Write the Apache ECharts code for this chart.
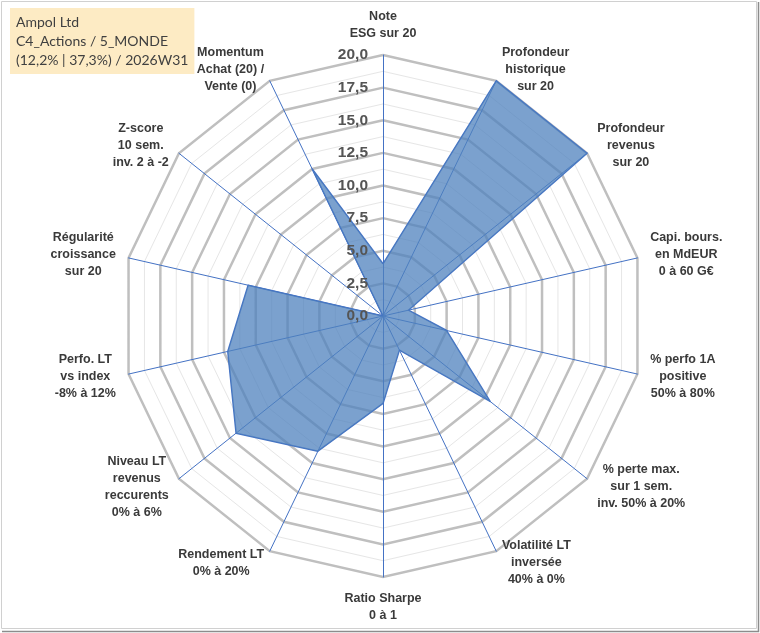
<!DOCTYPE html>
<html>
<head>
<meta charset="utf-8">
<script src="https://cdn.jsdelivr.net/npm/echarts@6/dist/echarts.min.js"></script>
<style>
html,body{margin:0;padding:0;background:#fff;}
#chart{width:760px;height:633px;}
</style>
</head>
<body>
<div id="chart"></div>
<script>
// Axes in clockwise order starting from the top
const categories = [
  'Note\nESG sur 20',
  'Profondeur\nhistorique\nsur 20',
  'Profondeur\nrevenus\nsur 20',
  'Capi. bours.\nen MdEUR\n0 à 60 G€',
  '% perfo 1A\npositive\n50% à 80%',
  '% perte max.\nsur 1 sem.\ninv. 50% à 20%',
  'Volatilité LT\ninversée\n40% à 0%',
  'Ratio Sharpe\n0 à 1',
  'Rendement LT\n0% à 20%',
  'Niveau LT\nrevenus\nreccurents\n0% à 6%',
  'Perfo. LT\nvs index\n-8% à 12%',
  'Régularité\ncroissance\nsur 20',
  'Z-score\n10 sem.\ninv. 2 à -2',
  'Momentum\nAchat (20) /\nVente (0)'
];
const scores = [4, 20, 20, 2, 5, 10.5, 2.9, 6.7, 11.5, 14.4, 12.2, 10.6, 0, 12.5];
const axisMin = 0;
const axisMax = 20;
const tickStep = 2.5;
const titleLines = ['Ampol Ltd', 'C4_Actions / 5_MONDE', '(12,2% | 37,3%) / 2026W31'];

// ECharts radar goes counter-clockwise: keep first, reverse the rest
const order = [0].concat(categories.map((_, i) => i).slice(1).reverse());
const indicators = order.map(i => ({ name: categories[i], min: axisMin, max: axisMax }));
const seriesValues = order.map(i => scores[i]);

const CENTER = [383, 316];
const RADIUS = 261;

const chart = echarts.init(document.getElementById('chart'), null, { renderer: 'canvas' });
chart.setOption({
  backgroundColor: '#ffffff',
  animation: false,
  title: {
    text: titleLines.join('\n'),
    left: 10,
    top: 8,
    backgroundColor: '#fdebc4',
    padding: [5, 6, 4, 6],
    textStyle: { fontFamily: 'Lato', fontSize: 14, fontWeight: 'normal', color: '#404040', lineHeight: 19 }
  },
  graphic: [
    { type: 'rect', shape: { x: 1.5, y: 1.5, width: 755, height: 627 }, style: { fill: 'none', stroke: '#d0d0d0', lineWidth: 1 }, silent: true },
    { type: 'polyline', shape: { points: [[758.5, 2], [758.5, 631.5], [2, 631.5]] }, style: { fill: 'none', stroke: '#8c8c8c', lineWidth: 1.5 }, silent: true }
  ],
  radar: [
    {
      center: CENTER, radius: RADIUS, startAngle: 90, shape: 'polygon',
      splitNumber: 16,
      indicator: indicators.map(d => ({ name: '', min: d.min, max: d.max })),
      axisName: { show: false },
      axisLine: { show: false },
      splitArea: { show: false },
      splitLine: { lineStyle: { color: '#e6e6e6', width: 1 } }
    },
    {
      center: CENTER, radius: RADIUS, startAngle: 90, shape: 'polygon',
      splitNumber: 8,
      indicator: indicators,
      nameGap: 13,
      axisName: {
        formatter: function (name) {
          return name.split('\n').map(l => '{c|' + l + '}').join('\n');
        },
        rich: {
          c: { align: 'center', fontFamily: 'Liberation Sans', fontWeight: 'bold', fontSize: 12.5, color: '#3a3a3a', lineHeight: 17 }
        }
      },
      axisLine: { lineStyle: { color: '#4472c4', width: 1 } },
      splitArea: { show: false },
      splitLine: { lineStyle: { color: '#bfbfbf', width: 2.5 } }
    }
  ],
  polar: { center: CENTER, radius: RADIUS },
  angleAxis: { type: 'value', startAngle: 90, show: false, min: 0, max: 360 },
  radiusAxis: {
    type: 'value', min: axisMin, max: axisMax, interval: tickStep,
    axisLine: { show: false }, axisTick: { show: false }, splitLine: { show: false },
    axisLabel: {
      formatter: v => v.toFixed(1).replace('.', ','),
      fontFamily: 'Liberation Sans', fontWeight: 'bold', fontSize: 15.5, color: '#555555', margin: 15
    },
    z: 20
  },
  series: [{
    type: 'radar',
    radarIndex: 1,
    symbol: 'none',
    lineStyle: { color: '#4472c4', width: 1.5 },
    areaStyle: { color: '#4f81bd', opacity: 0.75 },
    data: [{ value: seriesValues }]
  }]
});
</script>
</body>
</html>
